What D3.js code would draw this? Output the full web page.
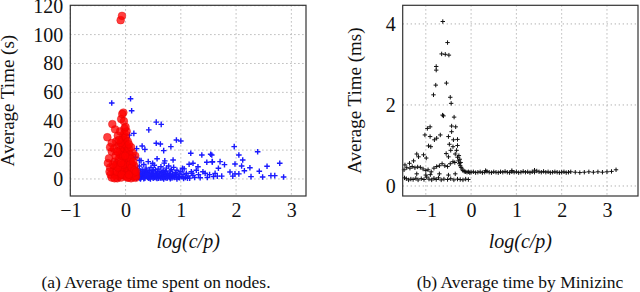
<!DOCTYPE html>
<html>
<head>
<meta charset="utf-8">
<script src="https://cdn.jsdelivr.net/npm/d3@7"></script>
<style>
  body { margin: 0; background: #fff; }
  svg { display: block; }
  .grid line { stroke: #a8a8a8; stroke-dasharray: 1.2 2.8; stroke-width: 1; }
</style>
</head>
<body>
<svg id="chart" width="640" height="292"></svg>
<script>
// (a) blue: log(c/p), average time (s)
var blueA = [
  [-0.25,52.6],[0.09,55.6],[0.11,47.3],[0.42,34],[0.555,39.4],[0.645,37.8],[0.07,30.4],[0.15,31.6],
  [0.3,22.8],[0.555,24.7],[0.63,24.2],[0.82,22.4],[0.92,27],[1.0,26.3],[0.69,19.6],[1.18,17.8],
  [1.38,16.6],[1.54,17.1],[1.47,11.6],[1.57,12],[1.22,10.9],[1.15,10.2],[1.31,8.5],[0.28,12.7],
  [0.49,10.9],[0.71,12.5],[0.86,13.1],[1.03,7.4],[1.4,5],[1.62,3.9],[1.2,3.9],[1.12,0.5],
  [1.966,22.4],[2.39,18.9],[2.79,10.9],[2.86,1.4],[2.56,8.8],[2.42,5.3],[2.63,2.3],[2.7,2.3],
  [2.48,1.4],[2.25,7.8],[2.27,1.6],[2.05,16.6],[2.12,13.1],[2.1,9],[1.98,10.4],[2.15,5.7],
  [2.05,3.5],[1.98,3.5],[1.89,4.8],[1.94,2],[1.74,2],[1.79,9.9],[1.71,12],[1.56,16.6],
  [1.57,11.8],[1.66,2],[1.59,1.6],[1.68,7.4],[0.2,21],[0.35,20.5],[0.18,15],[0.04,21],
  [0.15,1],[0.17,3],[0.18,5],[0.2,0.5],[0.21,2.5],[0.22,7],[0.23,4],[0.24,1.2],[0.25,9],
  [0.26,3],[0.27,5.5],[0.28,0.8],[0.29,2],[0.3,6.5],[0.31,4],[0.32,1.5],[0.33,10],[0.34,3],
  [0.35,0.5],[0.36,5],[0.37,7.5],[0.38,2],[0.39,4.5],[0.4,1],[0.41,12],[0.42,3.5],[0.43,6],
  [0.44,0.8],[0.45,2.5],[0.46,8],[0.47,4],[0.48,1.5],[0.49,5.5],[0.5,0.6],[0.51,3],[0.52,9.5],
  [0.53,2],[0.54,6.5],[0.55,1],[0.56,4],[0.57,14],[0.58,2.5],[0.59,7],[0.6,0.5],[0.61,3.5],
  [0.62,5],[0.63,1.2],[0.64,8.5],[0.65,2],[0.66,4.5],[0.67,0.8],[0.68,6],[0.69,3],[0.7,11],
  [0.71,1.5],[0.72,5],[0.73,2.5],[0.74,7.5],[0.75,0.5],[0.76,4],[0.77,2],[0.78,9],[0.79,3],
  [0.8,1],[0.81,5.5],[0.82,2],[0.83,6.5],[0.84,0.7],[0.85,3.5],[0.86,1.5],[0.87,8],[0.88,2.5],
  [0.9,4.5],[0.92,1],[0.93,6],[0.95,2],[0.97,3.5],[0.98,0.8],[1.0,5],[1.02,1.5],[1.04,3],
  [1.06,7],[1.08,1],[1.1,4],[1.13,2],[1.16,0.6],[1.19,5],[1.22,2.5],[1.25,1],[1.28,6],
  [1.32,3],[1.35,0.8],[1.44,4],[1.48,1],[1.52,3],[0.16,2],[0.19,4],[0.2,6],[0.22,1.5],
  [0.24,3],[0.26,0.5],[0.28,4],[0.3,2],[0.32,5],[0.34,1],[0.36,3],[0.38,6],[0.4,2.5],
  [0.42,0.5],[0.44,4],[0.46,2],[0.48,3.5],[0.5,6],[0.52,1],[0.54,3],[0.56,0.8],[0.58,5],
  [0.6,2],[0.62,3.5],[0.64,0.5],[0.66,2],[0.68,1],[0.7,3.5],[0.72,0.8],[0.74,2.5],[0.76,1],
  [0.8,3],[0.84,2],[0.88,1],[0.92,3],[0.96,1],[-0.2,1],[-0.12,0.5],[0.12,17],[0.25,13],
  [0.27,0],[0.33,0.2],[0.45,0],[0.57,0.3],[0.69,0],[0.81,0.2],[0.93,0],[1.05,0.3]
]

// (a) red: log(c/p), average time (s)
var redA = [
  [-0.089,110],[-0.065,113],
  [-0.15,0.5],[-0.12,2],[-0.1,4],[-0.08,1],[-0.06,6],[-0.05,3],[-0.04,8],[-0.03,10],
  [-0.02,5],[-0.01,12],[0,2],[0.01,7],[0.02,14],[0.03,4],[0.04,9],[0.05,1],[0.06,6],
  [0.07,11],[0.08,3],[0.09,8],[0.1,0.5],[0.11,5],[0.12,2.5],[0.13,7],[0.15,1.5],[0.17,4],
  [0.18,0.8],[0.19,2],[-0.08,16],[-0.06,19],[-0.05,22],[-0.04,15],[-0.03,25],[-0.02,18],
  [-0.01,21],[0,27],[0.01,17],[0.02,23],[0.03,13],[0.04,19],[-0.07,27],[-0.04,30],
  [-0.02,32],[0,29],[-0.06,24],[0.05,15],[0.06,21],[0.07,13],[0.08,17],[0.1,12],[0.12,10],
  [-0.2,3],[-0.22,6],[-0.25,1],[-0.18,9],[-0.2,12],[-0.15,11],[-0.12,14],[-0.1,20],
  [-0.13,23],[-0.17,26],[-0.14,30],[-0.1,33],[-0.25,19],[-0.3,14.3],[-0.25,25],[-0.33,28.9],
  [-0.19,34.4],[-0.24,38],[-0.08,41.5],[-0.04,46],[-0.06,45],[-0.02,35],[0.02,33],
  [0.175,16],[0.13,18],[0.1,22],[-0.28,8],[-0.27,3],[-0.2,0.5],[-0.1,7],[-0.05,10],
  [0.14,4],[0.16,9],[0.09,14],[-0.09,25],[-0.03,40],[-0.11,17],[0,36],
  [-0.16,5],[-0.14,8],[-0.08,11],[-0.07,3],[0.03,1],[0.06,3],[0.08,10],[0.11,8],
  [0.14,12],[0.16,6],[0.19,5],[-0.23,10],[-0.29,5],[-0.18,16],[-0.21,21],[-0.15,19],
  [-0.12,27],[0.04,26],[-0.01,16],[0.06,24],[-0.32,11],[-0.28,22]
]

// (b) black: log(c/p), average time (ms)
var pointsB = [
  [-0.625,4.06],[-0.52,3.54],[-0.65,3.26],[-0.57,3.25],[-0.49,3.23],[-0.77,2.95],[-0.77,2.86],
  [-0.78,2.49],[-0.545,2.54],[-0.83,2.25],[-0.46,2.19],[-0.44,2.04],[-0.61,1.73],[-0.63,1.75],
  [-0.375,1.7],[-0.905,1.46],[-0.965,1.42],[-1.02,1.26],[-0.905,1.22],[-0.43,1.48],[-0.34,1.46],
  [-0.43,1.34],[-0.68,1.26],[-0.76,1.18],[-0.81,1.14],[-0.5,1.22],[-0.39,1.14],[-0.3,1.15],
  [-0.94,0.99],[-0.89,0.97],[-0.48,1.03],[-0.4,0.97],[-0.3,1.0],[-1.05,0.77],[-1.2,0.79],
  [-1.16,0.72],[-0.99,0.69],[-1.27,0.62],[-1.36,0.56],[-1.46,0.52],[-0.5,0.72],[-0.35,0.79],
  [-0.3,0.71],[-0.32,0.88],[-0.28,0.62],[-0.26,0.55],[-0.24,0.5],[-0.22,0.46],[-0.2,0.42],
  [-0.27,0.75],[-0.25,0.66],[-0.23,0.58],[-0.45,0.88],[-0.55,0.8],
  [-1.48,0.4],[-1.42,0.45],[-1.35,0.44],[-1.3,0.48],[-1.24,0.45],[-1.18,0.47],[-1.12,0.46],
  [-1.06,0.42],[-1.0,0.38],[-0.95,0.4],[-0.88,0.35],[-0.82,0.44],[-0.76,0.48],[-0.7,0.5],
  [-0.64,0.55],[-0.58,0.5],[-0.52,0.48],[-0.46,0.55],[-0.4,0.6],[-0.36,0.58],
  [-1.47,0.2],[-1.43,0.18],[-1.38,0.15],[-1.33,0.17],[-1.28,0.16],[-1.22,0.19],[-1.17,0.15],
  [-1.1,0.18],[-1.04,0.16],[-0.98,0.22],[-0.93,0.17],[-0.87,0.15],[-0.82,0.19],[-0.77,0.16],
  [-0.72,0.2],[-0.66,0.15],[-0.6,0.17],[-0.52,0.16],[-0.45,0.18],[-0.38,0.15],[-0.3,0.17],
  [-0.24,0.16],[-0.18,0.15],[-0.12,0.17],[-0.06,0.16],[-0.9,0.28],[-0.7,0.3],[-0.5,0.27],
  [-0.35,0.3],[-1.2,0.3],[-1.0,0.27],
  [-0.18,0.38],[-0.15,0.36],[-0.12,0.35],[-0.09,0.34],[-0.06,0.35],[-0.03,0.33],[0,0.34],
  [0.05,0.35],[0.1,0.33],[0.15,0.34],[0.2,0.35],[0.25,0.33],[0.3,0.34],[0.35,0.36],
  [0.4,0.34],[0.45,0.33],[0.5,0.35],[0.55,0.34],[0.6,0.33],[0.65,0.35],[0.7,0.34],
  [0.75,0.36],[0.8,0.34],[0.85,0.33],[0.9,0.35],[0.95,0.34],[1.0,0.35],[1.05,0.33],
  [1.1,0.34],[1.15,0.36],[1.2,0.34],[1.25,0.35],[1.3,0.33],[1.35,0.35],[1.4,0.34],
  [1.45,0.37],[1.5,0.35],[1.55,0.34],[1.6,0.36],[1.65,0.34],[1.7,0.35],[1.75,0.33],
  [1.8,0.34],[1.85,0.35],[1.9,0.34],[1.95,0.33],[2.0,0.34],[2.05,0.35],[2.1,0.33],
  [2.15,0.34],[2.2,0.35],[2.3,0.34],[2.4,0.33],[2.5,0.34],[2.6,0.35],[2.7,0.34],
  [2.8,0.35],[2.9,0.34],[3.0,0.35],[3.1,0.36],[3.2,0.4],[0.32,0.38],[0.9,0.38],[1.4,0.39]
]

var xTicksA = [-1, 0, 1, 2, 3]
var yTicksA = [0, 20, 40, 60, 80, 100, 120]
var xTicksB = [-1, 0, 1, 2, 3]
var yTicksB = [0, 2, 4]

var serif = "'Liberation Serif', 'Times New Roman', Times, serif"
var svg = d3.select("#chart")

function drawPanel(opt) {
  var x = d3.scaleLinear().domain(opt.xDomain).range([opt.left, opt.right])
  var y = d3.scaleLinear().domain(opt.yDomain).range([opt.bottom, opt.top])
  var g = svg.append("g")

  // grid
  var grid = g.append("g").attr("class", "grid")
  grid.selectAll(".gx").data(opt.xTicks).enter().append("line")
    .attr("x1", d => x(d)).attr("x2", d => x(d))
    .attr("y1", opt.top).attr("y2", opt.bottom)
  grid.selectAll(".gy").data(opt.yTicks).enter().append("line")
    .attr("y1", d => y(d)).attr("y2", d => y(d))
    .attr("x1", opt.left).attr("x2", opt.right)

  // axes, labels only
  var fmt = d => d < 0 ? "\u2212" + Math.abs(d) : String(d)
  var xAxis = d3.axisBottom(x).tickValues(opt.xTicks).tickSize(0).tickPadding(7).tickFormat(fmt)
  var yAxis = d3.axisLeft(y).tickValues(opt.yTicks).tickSize(0).tickPadding(7).tickFormat(fmt)
  g.append("g").attr("transform", "translate(0," + opt.bottom + ")").call(xAxis)
    .call(s => s.select(".domain").remove())
  g.append("g").attr("transform", "translate(" + opt.left + ",0)").call(yAxis)
    .call(s => s.select(".domain").remove())
  g.selectAll(".tick text")
    .attr("font-family", serif).attr("font-size", 20).attr("fill", "#111")

  var marks = g.append("g")
  opt.draw(marks, x, y)

  // frame
  g.append("rect").attr("x", opt.left).attr("y", opt.top)
    .attr("width", opt.right - opt.left).attr("height", opt.bottom - opt.top)
    .attr("fill", "none").attr("stroke", "#333").attr("stroke-width", 1.2)

  // axis titles and caption
  g.append("text").attr("x", (opt.left + opt.right) / 2).attr("y", 248)
    .attr("text-anchor", "middle").attr("font-family", serif)
    .attr("font-size", 20).attr("font-style", "italic").attr("fill", "#111")
    .text("log(c/p)")
  g.append("text")
    .attr("transform", "translate(" + opt.yLabelX + "," + ((opt.top + opt.bottom) / 2) + ") rotate(-90)")
    .attr("text-anchor", "middle").attr("font-family", serif)
    .attr("font-size", 19).attr("fill", "#111").text(opt.yLabel)
  g.append("text").attr("x", opt.captionX).attr("y", 288)
    .attr("text-anchor", "middle").attr("font-family", serif)
    .attr("font-size", 17.5).attr("fill", "#111").text(opt.caption)
}

drawPanel({
  left: 70.3, right: 306, top: 5.3, bottom: 196,
  xDomain: [-1, 3.265], yDomain: [-11.8, 120.3],
  xTicks: xTicksA, yTicks: yTicksA,
  yLabelX: 14, yLabel: "Average Time (s)",
  captionX: 156, caption: "(a) Average time spent on nodes.",
  draw: function (m, x, y) {
    m.selectAll(".b").data(blueA).enter().append("path")
      .attr("d", "M-2.8,0H2.8M0,-2.8V2.8")
      .attr("transform", d => "translate(" + x(d[0]) + "," + y(d[1]) + ")")
      .attr("stroke", "#1a1aff").attr("stroke-width", 1.4).attr("fill", "none")
    m.selectAll(".r").data(redA).enter().append("circle")
      .attr("cx", d => x(d[0])).attr("cy", d => y(d[1])).attr("r", 3.9)
      .attr("fill", "#ff0000").attr("fill-opacity", 0.75)
      .attr("stroke", "#e00000").attr("stroke-opacity", 0.6).attr("stroke-width", 0.6)
  }
})

drawPanel({
  left: 402.7, right: 638, top: 5.3, bottom: 196,
  xDomain: [-1.51, 3.685], yDomain: [-0.247, 4.46],
  xTicks: xTicksB, yTicks: yTicksB,
  yLabelX: 361, yLabel: "Average Time (ms)",
  captionX: 520, caption: "(b) Average time by Minizinc",
  draw: function (m, x, y) {
    m.selectAll(".k").data(pointsB).enter().append("path")
      .attr("d", "M-2.2,0H2.2M0,-2.2V2.2")
      .attr("transform", d => "translate(" + x(d[0]) + "," + y(d[1]) + ")")
      .attr("stroke", "#111").attr("stroke-width", 1).attr("fill", "none")
  }
})
</script>
</body>
</html>
